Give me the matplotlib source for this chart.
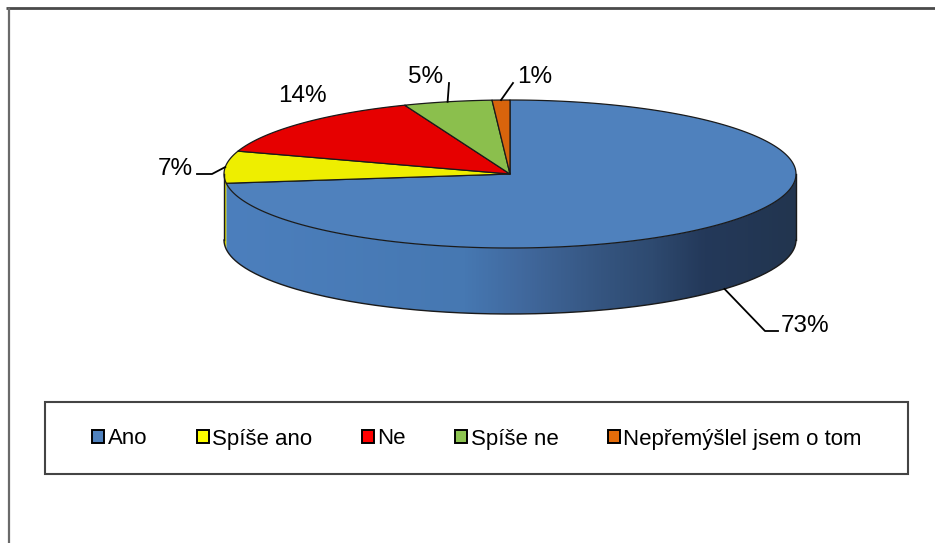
import numpy as np
import matplotlib.pyplot as plt
from matplotlib.patches import Polygon, Rectangle, Patch
from matplotlib.colors import LinearSegmentedColormap

plt.rcParams['font.family'] = ['Liberation Sans', 'DejaVu Sans']

categories = ['Ano', 'Spíše ano', 'Ne', 'Spíše ne', 'Nepřemýšlel jsem o tom']
values = [73, 7, 14, 5, 1]
labels = ['73%', '7%', '14%', '5%', '1%']

top_colors = ['#4F81BD', '#EEEE00', '#E60000', '#8BBF4D', '#D8640C']
side_colors = ['#4F81BD', '#CFCF00', '#B00000', '#6E9A3C', '#A84C08']
legend_colors = ['#4F81BD', '#FFFF00', '#FF0000', '#8DC451', '#E46C0A']
blue_side = LinearSegmentedColormap.from_list('side', [
    (0.0, '#4C7FBD'), (0.42, '#4678B2'), (0.52, '#41699E'),
    (0.66, '#355580'), (0.75, '#2E4A70'), (0.84, '#24395A'), (1.0, '#22354F')])

# layout (pixel coordinates)
cx, cy, a, b, depth = 510, 174, 286, 74, 66
label_pos = [(781, 332), (193, 175), (278, 102), (408, 83), (517, 83)]
label_ha = ['left', 'right', 'left', 'left', 'left']
leader_pts = [[(765, 331), (778, 331)], [(212, 174), (197, 174)], [],
              [(449, 83)], [(513, 83)]]


def ell(t, dy=0):
    t = np.radians(t)
    return cx + a * np.cos(t), cy - b * np.sin(t) + dy


fig = plt.figure(figsize=(9.35, 5.43), dpi=100)
ax = fig.add_axes([0, 0, 1, 1])
ax.axis('off')

total = float(sum(values))
starts, ends = [], []
cum = 0
for v in values:
    starts.append(90 - cum / total * 360)
    cum += v
    ends.append(90 - cum / total * 360)

# side band (front half only)
for i in range(len(values)):
    hi = min(starts[i], 0)
    lo = max(ends[i], -180)
    if hi <= lo:
        continue
    ts = np.linspace(hi, lo, 200)
    tx, ty = ell(ts)
    bx, by = ell(ts[::-1], depth)
    pts = np.column_stack([np.r_[tx, bx], np.r_[ty, by]])
    if i == 0:
        poly = Polygon(pts, closed=True, facecolor='none', edgecolor='none')
        ax.add_patch(poly)
        grad = np.linspace(0, 1, 600).reshape(1, -1)
        im = ax.imshow(grad, extent=(cx - a, cx + a, cy + b + depth, cy - b),
                       aspect='auto', cmap=blue_side, interpolation='bilinear')
        im.set_clip_path(poly)
    else:
        ax.add_patch(Polygon(pts, closed=True, facecolor=side_colors[i],
                             edgecolor='none'))

# side outline
ts = np.linspace(0, -180, 300)
bx, by = ell(ts, depth)
ax.plot(bx, by, color='#1a1a1a', lw=1.0)
for t in (0, -180):
    x0, y0 = ell(t)
    ax.plot([x0, x0], [y0, y0 + depth], color='#1a1a1a', lw=1.0)

# top face
for i in range(len(values)):
    ts = np.linspace(starts[i], ends[i], 200)
    x, y = ell(ts)
    pts = np.column_stack([np.r_[cx, x], np.r_[cy, y]])
    ax.add_patch(Polygon(pts, closed=True, facecolor=top_colors[i],
                         edgecolor='#1a1a1a', lw=0.9, joinstyle='round'))

# labels with leader lines
for i, lab in enumerate(labels):
    mid = (starts[i] + ends[i]) / 2
    if leader_pts[i]:
        if -180 < mid < 0:
            ax0 = ell(mid, depth)
        else:
            ax0 = ell(mid)
        xs = [ax0[0]] + [p[0] for p in leader_pts[i]]
        ys = [ax0[1]] + [p[1] for p in leader_pts[i]]
        ax.plot(xs, ys, color='black', lw=1.3)
    ax.text(label_pos[i][0], label_pos[i][1], lab, fontsize=17.5,
            ha=label_ha[i], va='baseline', color='black')

# chart frame
ax.plot([6, 935], [8, 8], color='#4a4a4a', lw=2.0, solid_capstyle='butt')
ax.plot([9, 9], [8, 543], color='#6a6a6a', lw=1.6, solid_capstyle='butt')

# legend
ax.add_patch(Rectangle((45, 402), 863, 72, facecolor='none',
                       edgecolor='#444444', lw=1.5))
handles = [Patch(facecolor=c, edgecolor='black', lw=1.4) for c in legend_colors]
fig.legend(handles, categories, loc='center', bbox_to_anchor=(477 / 935, 1 - 439 / 543),
           ncol=5, frameon=False, fontsize=16, handlelength=0.55, handleheight=0.55,
           handletextpad=0.15, columnspacing=2.22, borderpad=0)

ax.set_xlim(0, 935)
ax.set_ylim(543, 0)
fig.savefig('out.png', dpi=100, facecolor='white')
